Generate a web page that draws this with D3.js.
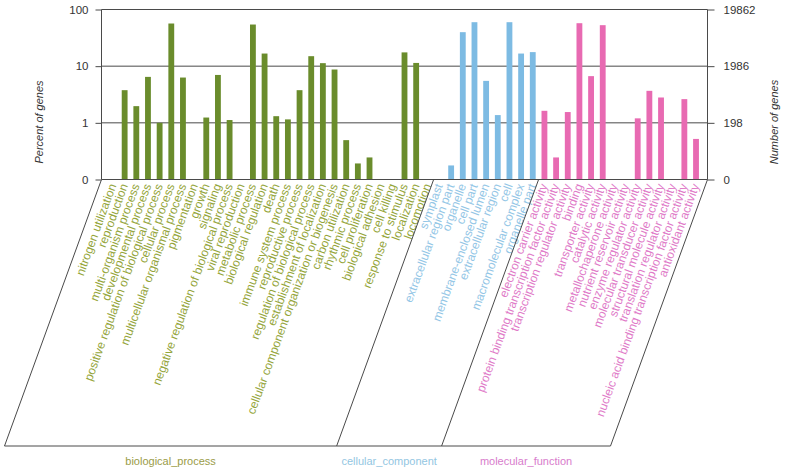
<!DOCTYPE html>
<html>
<head>
<meta charset="utf-8">
<script src="https://cdn.jsdelivr.net/npm/d3@7"></script>
<style>
  html, body { margin: 0; padding: 0; background: #ffffff; }
  svg { display: block; font-family: "Liberation Sans", Arial, sans-serif; }
</style>
</head>
<body>
<svg id="chart" width="787" height="472"></svg>
<script>
// ---- data ----
const bpLabels = ["nitrogen utilization","reproduction","multi-organism process","developmental process",
  "positive regulation of biological process","cellular process","multicellular organismal process",
  "pigmentation","growth","signaling","negative regulation of biological process","viral reproduction",
  "metabolic process","biological regulation","death","immune system process","reproductive process",
  "regulation of biological process","establishment of localization",
  "cellular component organization or biogenesis","carbon utilization","rhythmic process",
  "cell proliferation","biological adhesion","cell killing","response to stimulus","localization","locomotion"];
const bpValues = [null,3.77,1.97,6.47,1.0,56.6,6.3,null,1.24,7.0,1.12,null,54.3,16.7,1.31,1.15,3.77,
  15.0,11.3,8.73,0.495,0.192,0.245,null,null,17.5,11.4,null];

const ccLabels = ["symplast","extracellular region part","organelle","cell part","membrane-enclosed lumen",
  "extracellular region","cell","macromolecular complex","organelle part"];
const ccValues = [null,0.177,39.8,59.7,5.5,1.37,59.7,16.7,17.7];

const mfLabels = ["electron carrier activity","protein binding transcription factor activity",
  "transcription regulator activity","binding","transporter activity","catalytic activity",
  "metallochaperone activity","nutrient reservoir activity","enzyme regulator activity",
  "molecular transducer activity","structural molecule activity","translation regulator activity",
  "nucleic acid binding transcription factor activity","antioxidant activity"];
const mfValues = [1.63,0.245,1.55,57.3,6.67,52.9,null,null,1.2,3.67,2.8,null,2.62,0.52];

const groupNames = ["biological_process","cellular_component","molecular_function"];
const percentTicks = [0.1, 1, 10, 100];
const percentTickLabels = ["0","1","10","100"];
const numberTickLabels = ["0","198","1986","19862"];

const barColors = ["#6a8c2c","#7dbbe3","#e86ab2"];
const textColors = ["#94a53a","#93c6e6","#e07ac8"];
const groupTextColors = ["#9a9c48","#93c6e2","#d87ccc"];

(function () {
// ---- build table ----
const groups = [
  {labels: bpLabels, values: bpValues},
  {labels: ccLabels, values: ccValues},
  {labels: mfLabels, values: mfValues}
];
const rows = [];
groups.forEach((g, gi) => g.labels.forEach((l, i) => rows.push({label: l, value: g.values[i], group: gi})));

// ---- layout ----
const svg = d3.select("#chart");
const pLeft = 101.5, pRight = 707.5, pTop = 9.5, base = 179.5, pBottom = 446;
const slantDx = 97;

const x = d3.scaleBand().domain(rows.map(d => d.label)).range([pLeft, pRight])
  .paddingInner(0.5).paddingOuter(0.735);
const y = d3.scaleLog().domain([0.1, 100]).range([base, pTop]);

const lineColor = "#4a4a4a";

// gridlines
svg.append("g").selectAll("line").data(percentTicks.slice(1)).join("line")
  .attr("x1", pLeft).attr("x2", pRight)
  .attr("y1", d => y(d)).attr("y2", d => y(d))
  .attr("stroke", lineColor).attr("stroke-width", 1);

// bars
svg.append("g").selectAll("rect").data(rows.filter(d => d.value != null)).join("rect")
  .attr("x", d => x(d.label))
  .attr("width", x.bandwidth())
  .attr("y", d => y(d.value))
  .attr("height", d => base - y(d.value))
  .attr("fill", d => barColors[d.group]);

// left axis
const leftAxis = d3.axisLeft(y).tickValues(percentTicks)
  .tickFormat((d, i) => percentTickLabels[i]).tickSize(6).tickPadding(7);
const gl = svg.append("g").attr("transform", `translate(${pLeft},0)`).call(leftAxis);
gl.select(".domain").attr("stroke", lineColor).attr("d", `M0,${base}V${pTop}`);
gl.selectAll(".tick line").attr("stroke", lineColor);
gl.selectAll(".tick text").attr("fill", "#333").attr("font-size", "11.5px")
  .attr("font-family", "Liberation Sans, Arial, sans-serif");

// right axis
const rightAxis = d3.axisRight(y).tickValues(percentTicks)
  .tickFormat((d, i) => numberTickLabels[i]).tickSize(7).tickPadding(9);
const gr = svg.append("g").attr("transform", `translate(${pRight},0)`).call(rightAxis);
gr.select(".domain").attr("stroke", lineColor).attr("d", `M0,${base}V${pTop}`);
gr.selectAll(".tick line").attr("stroke", lineColor);
gr.selectAll(".tick text").attr("fill", "#333").attr("font-size", "11.5px")
  .attr("font-family", "Liberation Sans, Arial, sans-serif");

// base line
svg.append("line").attr("x1", pLeft).attr("x2", pRight).attr("y1", base).attr("y2", base)
  .attr("stroke", lineColor);

// axis titles
svg.append("text").attr("transform", `translate(43,122) rotate(-90)`)
  .attr("text-anchor", "middle").attr("font-size", "11px").attr("font-style", "italic")
  .attr("fill", "#333").text("Percent of genes");
svg.append("text").attr("transform", `translate(778,122) rotate(-90)`)
  .attr("text-anchor", "middle").attr("font-size", "11px").attr("font-style", "italic")
  .attr("fill", "#333").text("Number of genes");

// category labels
svg.append("g").selectAll("text").data(rows).join("text")
  .attr("transform", d => `translate(${x(d.label) + x.bandwidth() / 2 + 3.5},${base + 6}) rotate(-70)`)
  .attr("text-anchor", "end")
  .attr("font-size", "12px")
  .attr("fill", d => textColors[d.group])
  .text(d => d.label);

// slanted frame
const boundaries = [pLeft];
let idx = 0;
groups.forEach((g, gi) => {
  idx += g.labels.length;
  if (gi < groups.length - 1) {
    const a = x(rows[idx - 1].label), b = x(rows[idx].label);
    boundaries.push((a + b) / 2 + x.bandwidth() / 2);
  }
});
boundaries.push(pRight);
svg.append("g").selectAll("line").data(boundaries).join("line")
  .attr("x1", d => d).attr("y1", base)
  .attr("x2", d => d - slantDx).attr("y2", pBottom)
  .attr("stroke", lineColor);
svg.append("line").attr("x1", pLeft - slantDx).attr("x2", pRight - slantDx)
  .attr("y1", pBottom).attr("y2", pBottom).attr("stroke", lineColor);

// group labels
svg.append("g").selectAll("text").data(groupNames).join("text")
  .attr("x", (d, i) => (boundaries[i] + boundaries[i + 1]) / 2 - slantDx)
  .attr("y", 465)
  .attr("text-anchor", "middle")
  .attr("font-size", "11px")
  .attr("fill", (d, i) => groupTextColors[i])
  .text(d => d);
})();
</script>
</body>
</html>
